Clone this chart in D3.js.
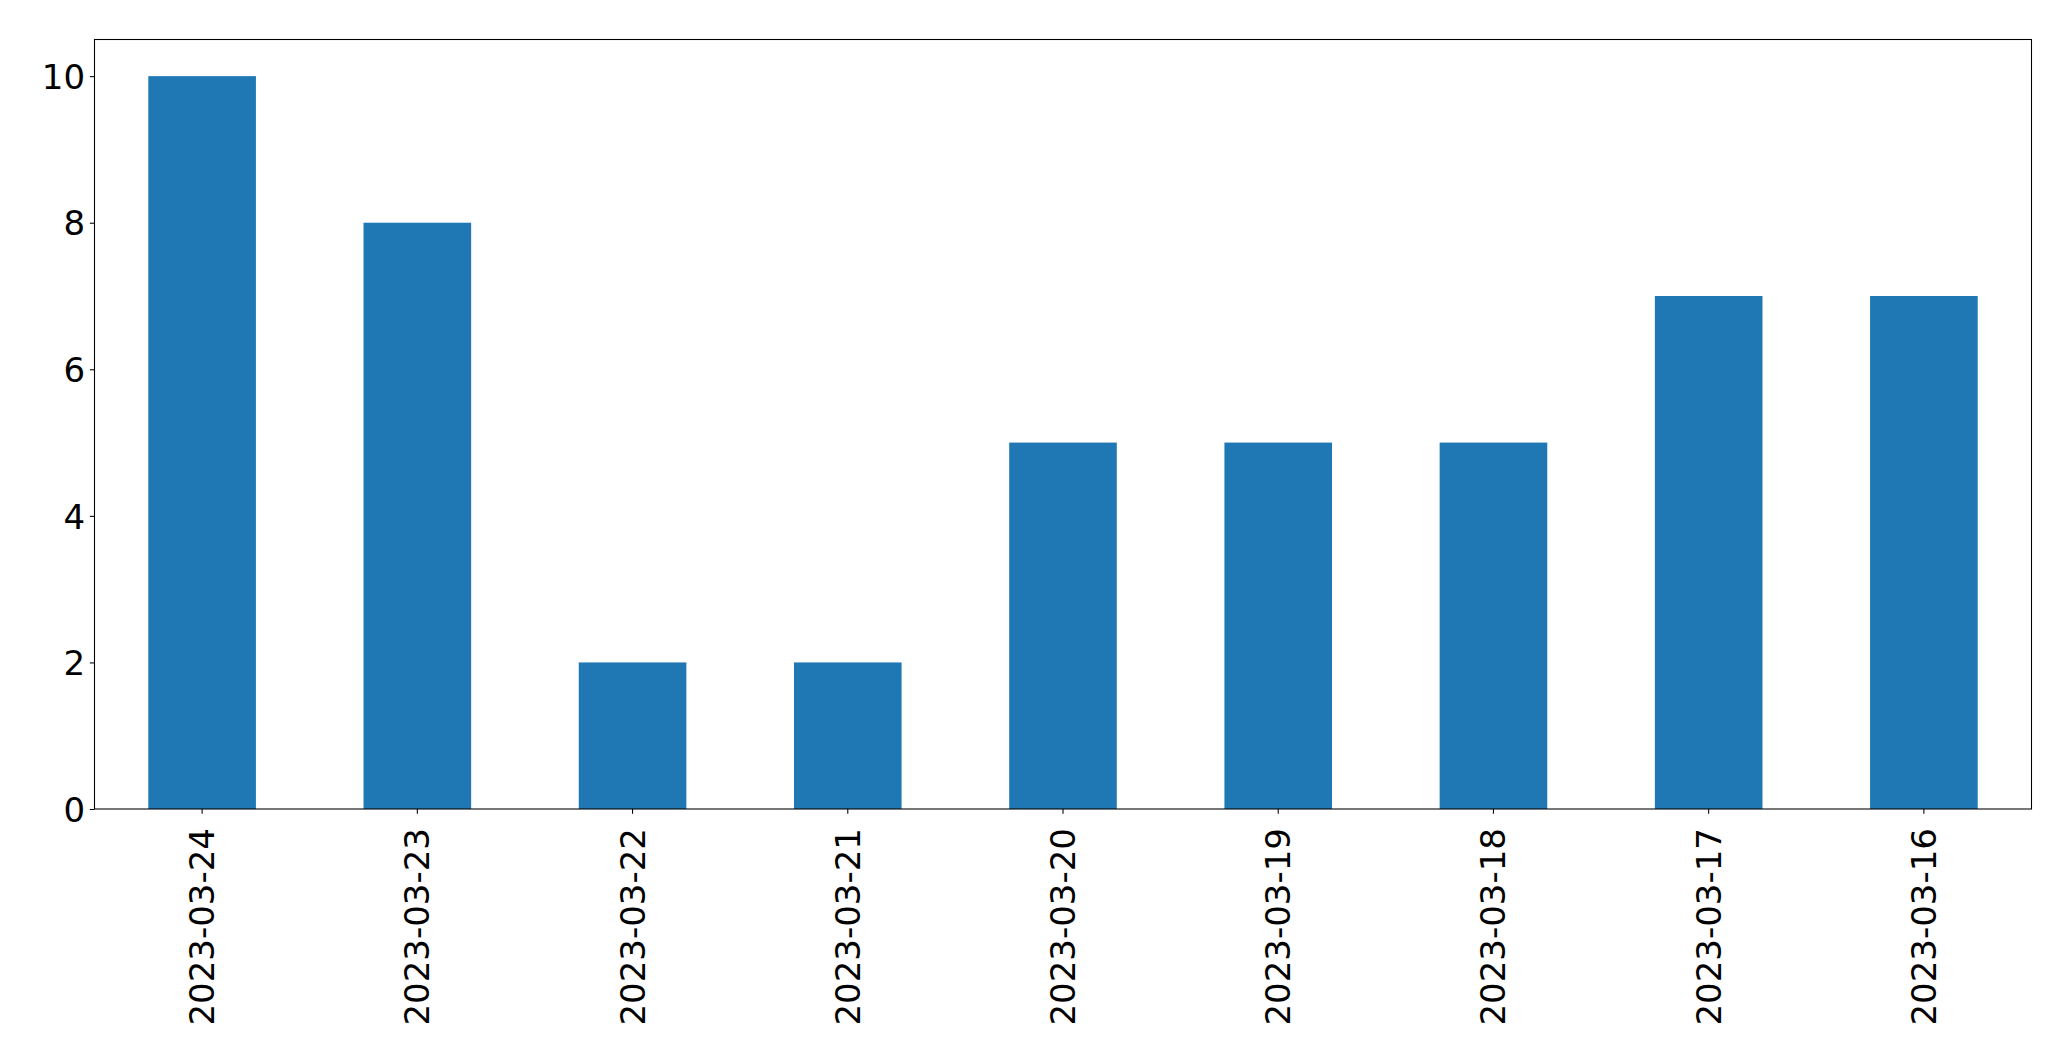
<!DOCTYPE html>
<html>
<head>
<meta charset="utf-8">
<script src="https://cdn.jsdelivr.net/npm/d3@7"></script>
<style>
  html, body { margin: 0; padding: 0; background: #fff; }
  svg { display: block; }
  text { font-family: "DejaVu Sans", sans-serif; }
</style>
</head>
<body>
<svg id="chart" width="2071" height="1061"></svg>
<script>
const categories = ["2023-03-24","2023-03-23","2023-03-22","2023-03-21","2023-03-20","2023-03-19","2023-03-18","2023-03-17","2023-03-16"];
const values = [10, 8, 2, 2, 5, 5, 5, 7, 7];
const yTicks = [0, 2, 4, 6, 8, 10];

const W = 2071, H = 1061;
const m = { left: 94.5, right: 2031.5, top: 39.5, bottom: 809 };
const svg = d3.select("#chart");

const x = d3.scaleBand().domain(categories).range([m.left, m.right]).paddingInner(0.5).paddingOuter(0.25);
const y = d3.scaleLinear().domain([0, 10.5]).range([m.bottom, m.top]);

svg.append("g").selectAll("rect").data(values).join("rect")
  .attr("x", (d, i) => x(categories[i]))
  .attr("width", x.bandwidth())
  .attr("y", d => y(d))
  .attr("height", d => y(0) - y(d))
  .attr("fill", "#1f77b4");

// y axis
const yAxis = svg.append("g").attr("transform", `translate(${m.left},0)`)
  .call(d3.axisLeft(y).tickValues(yTicks).tickFormat(d3.format("d")).tickSize(4.7).tickPadding(4.7));
yAxis.select(".domain").remove();
yAxis.selectAll("line").attr("stroke", "#000").attr("stroke-width", 1.07);
yAxis.selectAll("text").attr("font-size", "34px").attr("fill", "#000")
  .attr("font-family", "DejaVu Sans, sans-serif").attr("dy", "0.36em");

// x axis
const xAxis = svg.append("g").attr("transform", `translate(0,${m.bottom})`)
  .call(d3.axisBottom(x).tickSize(4.7).tickPadding(0));
xAxis.select(".domain").remove();
xAxis.selectAll("line").attr("stroke", "#000").attr("stroke-width", 1.07);
xAxis.selectAll("text")
  .attr("font-size", "34px").attr("fill", "#000")
  .attr("font-family", "DejaVu Sans, sans-serif")
  .attr("text-anchor", "end")
  .attr("y", 0).attr("dy", 0)
  .attr("transform", "translate(0,19) rotate(-90)")
  .attr("dominant-baseline", "central");

// frame
svg.append("rect")
  .attr("x", m.left).attr("y", m.top)
  .attr("width", m.right - m.left).attr("height", m.bottom - m.top)
  .attr("fill", "none").attr("stroke", "#000").attr("stroke-width", 1.07);
</script>
</body>
</html>
